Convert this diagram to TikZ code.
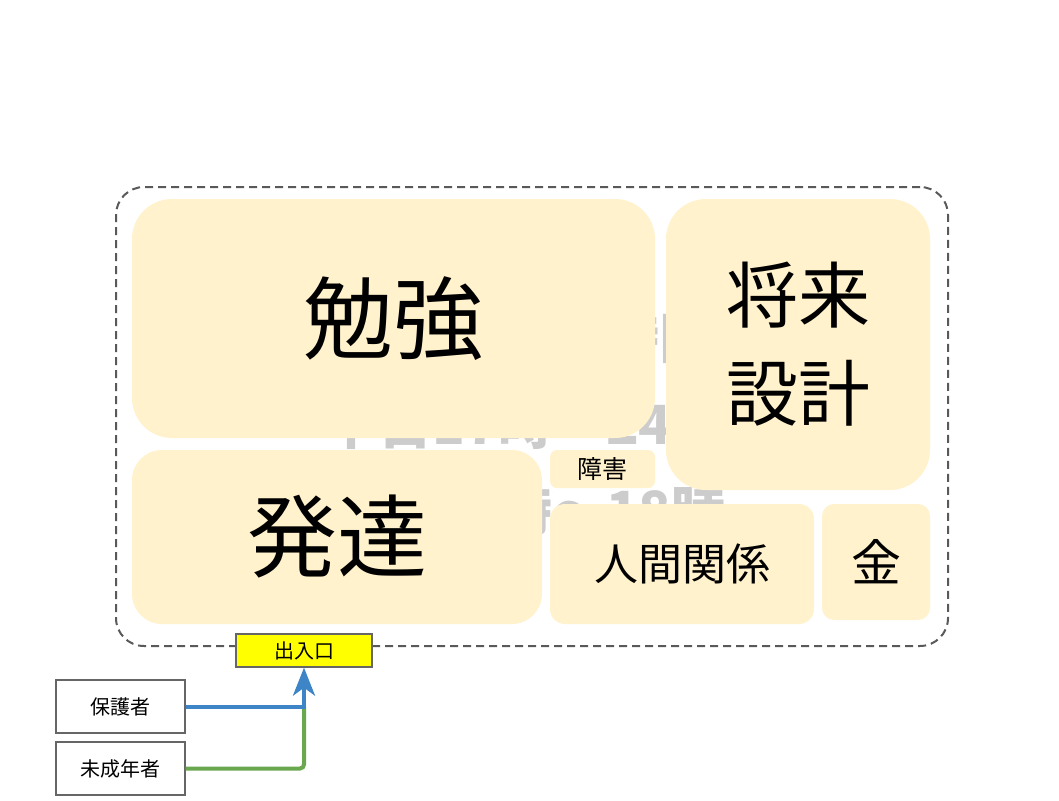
\documentclass[tikz,border=0pt]{standalone}
\usepackage{fontspec}
\setmainfont{Noto Sans CJK JP}
\usetikzlibrary{arrows.meta}
\definecolor{boxfill}{HTML}{FFF2CC}
\definecolor{frame}{HTML}{595959}
\definecolor{edge}{HTML}{666666}
\definecolor{bgtext}{HTML}{CCCCCC}
\definecolor{door}{HTML}{FFFF00}
\definecolor{bluearrow}{HTML}{3D85C6}
\definecolor{greenline}{HTML}{6AA84F}
\begin{document}
\begin{tikzpicture}[x=1pt,y=-1pt,
  topic/.style={fill=boxfill, draw=none, inner sep=0pt, align=center},
  whitebox/.style={fill=white, draw=edge, line width=1.3pt, inner sep=0pt, minimum width=129pt, minimum height=53pt, font=\fontsize{20}{24}\selectfont},
  graytext/.style={text=bgtext, inner sep=0pt, font=\fontsize{54}{60}\selectfont\bfseries},
  flow/.style={line width=4pt}
]
\useasboundingbox (0,0) rectangle (1059,800);

% background text (mostly hidden)
\node[graytext, anchor=base] (g0) at (525,358) {利用できる時間};
\node[graytext, anchor=base] (g1) at (525,444) {平日17時〜24時};
\node[graytext, anchor=base] (g2) at (525,530) {土日10時〜18時};

% container
\node[draw=frame, line width=2pt, dash pattern=on 8pt off 5pt, rounded corners=28pt,
      minimum width=832pt, minimum height=459pt, inner sep=0pt] (area) at (532,416.5) {};

% topics
\node[topic, rounded corners=40pt, minimum width=523pt, minimum height=239pt,
      font=\fontsize{90}{100}\selectfont] (study) at (393.5,318.5) {\raisebox{5pt}{勉強}};
\node[topic, rounded corners=40pt, minimum width=264pt, minimum height=291pt,
      font=\fontsize{72}{98}\selectfont] (future) at (798,344.5)
      {\raisebox{3pt}{\parbox{200pt}{\centering 将来\\設計}}};
\node[topic, rounded corners=30pt, minimum width=410pt, minimum height=174pt,
      font=\fontsize{90}{100}\selectfont] (devel) at (337,537) {\raisebox{5pt}{発達}};
\node[topic, rounded corners=7pt, minimum width=105pt, minimum height=38pt,
      font=\fontsize{25}{30}\selectfont] (disab) at (602.5,469) {障害};
\node[topic, rounded corners=15pt, minimum width=264pt, minimum height=120pt,
      font=\fontsize{44}{50}\selectfont] (relat) at (682,564) {\raisebox{2pt}{人間関係}};
\node[topic, rounded corners=12pt, minimum width=108pt, minimum height=116pt,
      font=\fontsize{50}{56}\selectfont] (money) at (876,562) {金};

% entrance
\node[fill=door, draw=edge, line width=1.3pt, inner sep=0pt, minimum width=136pt, minimum height=33pt,
      font=\fontsize{20}{24}\selectfont] (gate) at (304,650.5) {出入口};

% people
\node[whitebox] (guard) at (120.5,706.5) {保護者};
\node[whitebox] (minor) at (120.5,768.5) {未成年者};

% connectors
\coordinate (join) at (304,706.5);
\draw[flow, greenline, rounded corners=4pt] (minor.east) -| (join);
\draw[flow, bluearrow, -{Stealth[length=28pt,width=22pt,inset=8pt]}] (guard.east) -| (gate.south);
\end{tikzpicture}
\end{document}
